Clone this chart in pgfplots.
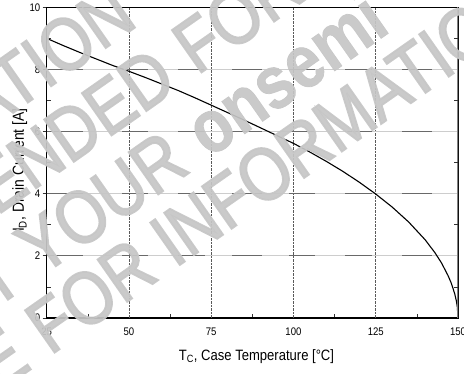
\documentclass[border=0pt]{standalone}
\usepackage{pgfplots}
\pgfplotsset{compat=1.18}
\usepackage{fontspec}
\setmainfont{Liberation Sans}[FakeStretch=0.87]
\newfontfamily\wmfont{Liberation Sans}[FakeStretch=0.85, FakeBold=2.5]
\newfontfamily\wmbold{Liberation Sans Bold}[FakeStretch=0.85, FakeBold=1]

\definecolor{wm}{RGB}{198,198,198}
\definecolor{griddark}{RGB}{105,105,105}
\definecolor{gridlight}{RGB}{205,205,205}
\definecolor{dotgray}{RGB}{90,90,90}

\begin{document}
\begin{tikzpicture}[x=1pt,y=1pt]
\useasboundingbox (0,0) rectangle (464,373);

\begin{axis}[
  at={(46.7pt,55pt)}, anchor=south west,
  width=411.3pt, height=310.7pt, scale only axis,
  xmin=25, xmax=150, ymin=0, ymax=10,
  xtick={25,50,75,100,125,150},
  ytick={0,2,4,6,8,10},
  minor x tick num=1, minor y tick num=1,
  xtick pos=left, ytick pos=left,
  tick align=inside,
  major tick length=4pt, minor tick length=4.5pt,
  major x tick style={draw=none},
  major y tick style={xshift=-4pt, line width=0.9pt, draw=black!80},
  minor tick style={line width=0.6pt, draw=black!80},
  extra x ticks={50,75,100,125},
  extra x tick labels={},
  extra x tick style={grid=major, major tick length=0pt,
    major grid style={draw=dotgray, line width=0.8pt, dash pattern=on 0.7pt off 0.7pt}},
  extra y ticks={2,4,6,8},
  extra y tick labels={},
  extra y tick style={grid=major, major tick length=0pt,
    major grid style={draw=griddark, line width=1.2pt,
      dash pattern=on 36.3pt off 39pt on 26pt off 30pt on 27pt off 27pt on 30pt off 27pt on 26pt off 30pt on 27pt off 30pt on 30pt off 30pt,
      preaction={draw=gridlight, solid, line width=1.2pt}}},
  axis line style={black, line width=1.1pt},
  /pgf/number format/assume math mode=true,
  ticklabel style={font=\fontsize{11}{13}\selectfont},
  xticklabel style={yshift=-6pt},
  yticklabel style={xshift=-3pt},
  xlabel style={font=\fontsize{15}{17}\selectfont},
  ylabel style={font=\fontsize{16}{18}\selectfont},
  xlabel={T\textsubscript{C}, Case Temperature [°C]},
  ylabel={I\textsubscript{D}, Drain Current [A]},
  xlabel style={at={(axis description cs:0.51,0)}, anchor=base, yshift=-42pt},
  ylabel style={at={(axis description cs:-0.0552,0.476)}, anchor=base},
]
% maximum continuous drain current vs. case temperature
\addplot[black, line width=1.1pt] coordinates {
  (25,9.00) (30,8.77) (35,8.55) (40,8.34) (45,8.13) (50,7.94)
  (55,7.74) (60,7.53) (65,7.32) (70,7.09) (75,6.85) (80,6.61)
  (85,6.37) (90,6.12) (95,5.87) (100,5.62) (105,5.34) (110,5.04)
  (115,4.72) (120,4.37) (125,3.99) (130,3.57) (135,3.09) (140,2.52)
  (143,2.10) (145,1.77) (147,1.36) (148,1.11) (149,0.78) (149.5,0.55)
  (149.8,0.35) (150,0)
};
\draw[draw=black!50, line width=1.8pt] (rel axis cs:1,0) -- (rel axis cs:1,1);
\end{axis}

% minor ticks on the right-hand frame
\begin{axis}[
  at={(46.7pt,55pt)}, anchor=south west,
  width=411.3pt, height=310.7pt, scale only axis,
  xmin=25, xmax=150, ymin=0, ymax=10,
  xtick=\empty, ytick={0,2,4,6,8,10}, yticklabels={},
  minor y tick num=1, ytick pos=right,
  tick align=inside, major tick length=0pt, minor tick length=4pt,
  minor tick style={line width=0.6pt, draw=black!80},
  axis line style={draw=none},
]
\addplot[draw=none] coordinates {(25,0) (150,10)};
\end{axis}

% watermark
\begin{scope}[every node/.style={text=wm, text opacity=0.92, inner sep=0pt, rotate=35,
    font=\wmfont\fontsize{75}{75}\selectfont}]
  \node[anchor=base east] at (139.3,348.5) {REPRESENTATIVE FOR INFORMATION};
  \node[anchor=base east] at (197.1,297.5) {NOT RECOMMENDED\kern0.278em};
  \node[anchor=base west] at (197.1,297.5) {FOR NEW DESIGN};
  \node[anchor=base east] at (209.0,214.1) {CONTACT YOUR\kern0.278em};
  \node[anchor=base west] at (209.0,214.1) {\wmbold onsemi};
  \node[anchor=base east] at (50.2,17.3) {REPRESENTATIVE\kern0.278em};
  \node[anchor=base west] at (50.2,17.3) {FOR INFORMATION};
\end{scope}
\end{tikzpicture}
\end{document}
